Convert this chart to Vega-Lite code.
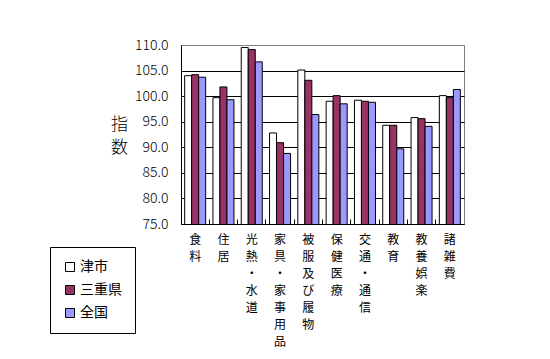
{
  "$schema": "https://vega.github.io/schema/vega-lite/v6.json",
  "width": 283,
  "height": 179,
  "autosize": {"type": "none"},
  "padding": {"left": 181, "top": 45, "right": 86, "bottom": 135},
  "background": "white",
  "config": {
    "font": "Noto Sans CJK JP",
    "view": {"stroke": "#808080", "strokeWidth": 1}
  },
  "data": {
    "values": [
      {"cat": "食料", "s": "津市", "v": 104.0},
      {"cat": "食料", "s": "三重県", "v": 104.2},
      {"cat": "食料", "s": "全国", "v": 103.7},
      {"cat": "住居", "s": "津市", "v": 99.7},
      {"cat": "住居", "s": "三重県", "v": 101.8},
      {"cat": "住居", "s": "全国", "v": 99.3},
      {"cat": "光熱・水道", "s": "津市", "v": 109.5},
      {"cat": "光熱・水道", "s": "三重県", "v": 109.1},
      {"cat": "光熱・水道", "s": "全国", "v": 106.7},
      {"cat": "家具・家事用品", "s": "津市", "v": 92.8},
      {"cat": "家具・家事用品", "s": "三重県", "v": 90.9},
      {"cat": "家具・家事用品", "s": "全国", "v": 88.8},
      {"cat": "被服及び履物", "s": "津市", "v": 105.1},
      {"cat": "被服及び履物", "s": "三重県", "v": 103.1},
      {"cat": "被服及び履物", "s": "全国", "v": 96.4},
      {"cat": "保健医療", "s": "津市", "v": 99.0},
      {"cat": "保健医療", "s": "三重県", "v": 100.1},
      {"cat": "保健医療", "s": "全国", "v": 98.5},
      {"cat": "交通・通信", "s": "津市", "v": 99.2},
      {"cat": "交通・通信", "s": "三重県", "v": 99.0},
      {"cat": "交通・通信", "s": "全国", "v": 98.8},
      {"cat": "教育", "s": "津市", "v": 94.3},
      {"cat": "教育", "s": "三重県", "v": 94.3},
      {"cat": "教育", "s": "全国", "v": 89.7},
      {"cat": "教養娯楽", "s": "津市", "v": 95.8},
      {"cat": "教養娯楽", "s": "三重県", "v": 95.6},
      {"cat": "教養娯楽", "s": "全国", "v": 94.1},
      {"cat": "諸雑費", "s": "津市", "v": 100.1},
      {"cat": "諸雑費", "s": "三重県", "v": 99.7},
      {"cat": "諸雑費", "s": "全国", "v": 101.3}
    ]
  },
  "mark": {"type": "bar", "stroke": "black", "strokeWidth": 1, "clip": true},
  "encoding": {
    "x": {
      "field": "cat",
      "type": "nominal",
      "sort": null,
      "scale": {"paddingInner": 0, "paddingOuter": 0},
      "axis": {
        "title": null,
        "labelAngle": 0,
        "labelExpr": "split(datum.label, '')",
        "labelBaseline": "top",
        "labelAlign": "center",
        "labelFontSize": 12,
        "labelLineHeight": 17,
        "labelPadding": 15,
        "labelColor": "black",
        "bandPosition": 0,
        "tickSize": -5,
        "tickColor": "black",
        "domainColor": "black",
        "grid": false
      }
    },
    "xOffset": {
      "field": "s",
      "type": "nominal",
      "sort": ["津市", "三重県", "全国"],
      "scale": {"paddingInner": 0, "paddingOuter": 0.52}
    },
    "y": {
      "field": "v",
      "type": "quantitative",
      "scale": {"domain": [75, 110], "zero": false, "nice": false},
      "axis": {
        "values": [75, 80, 85, 90, 95, 100, 105, 110],
        "format": ".1f",
        "ticks": false,
        "labelPadding": 13,
        "labelFontSize": 14,
        "labelFontWeight": 300,
        "labelColor": "black",
        "domainColor": "black",
        "gridColor": {"condition": {"test": "datum.value == 110", "value": "#808080"}, "value": "black"},
        "gridOpacity": 1,
        "title": ["指", "数"],
        "titleAngle": 0,
        "titleFontSize": 17,
        "titleFontWeight": 300,
        "titleLineHeight": 23,
        "titleAlign": "center",
        "titleBaseline": "middle",
        "titleX": -62,
        "titleY": 79,
        "titleColor": "black"
      }
    },
    "fill": {
      "field": "s",
      "type": "nominal",
      "scale": {"domain": ["津市", "三重県", "全国"], "range": ["#FFFFFF", "#993366", "#9999FF"]},
      "legend": {
        "title": null,
        "orient": "none",
        "legendX": -131,
        "legendY": 202,
        "strokeColor": "black",
        "padding": 13,
        "symbolType": "square",
        "symbolSize": 81,
        "symbolStrokeColor": "black",
        "symbolStrokeWidth": 1,
        "symbolOpacity": 1,
        "labelFontSize": 14,
        "labelColor": "black",
        "labelOffset": 3,
        "rowPadding": 9,
        "offset": 0
      }
    }
  }
}
